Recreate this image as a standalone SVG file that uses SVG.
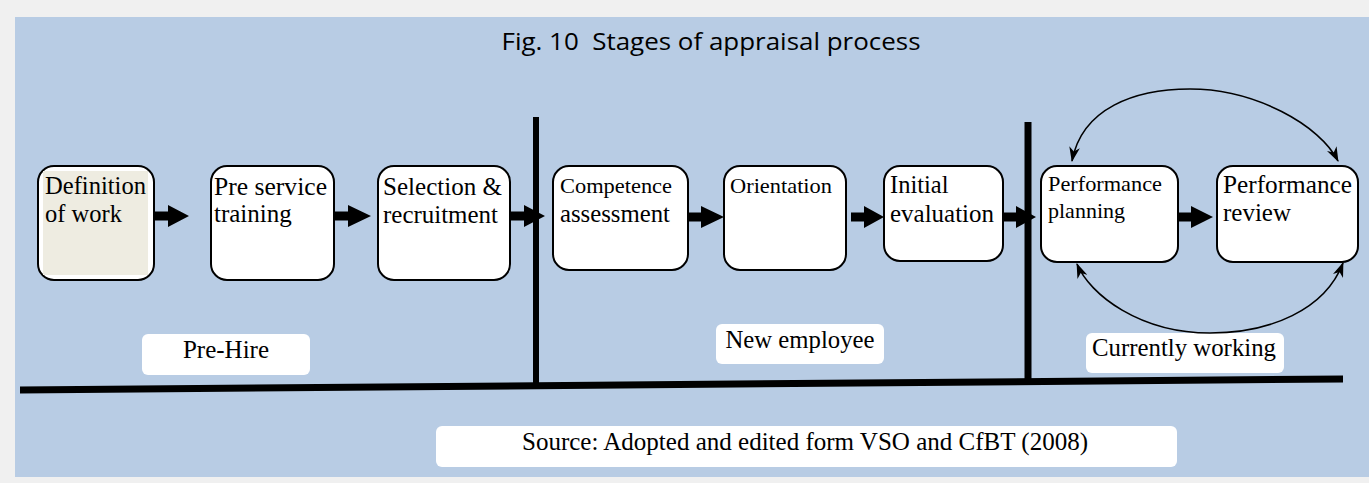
<svg xmlns="http://www.w3.org/2000/svg" width="1369" height="483" viewBox="0 0 1369 483">
<style>
.box{fill:#ffffff;stroke:#000000;stroke-width:2}
.lbl{fill:#ffffff;stroke:none}
.t{font-family:"Liberation Serif","Times New Roman",serif;fill:#000000}
.blk{fill:#000000;stroke:none}
.curve{fill:none;stroke:#000000;stroke-width:1.6}
.bar{stroke:#000000;fill:none}
.title{font-family:"Open Sans","Noto Sans",sans-serif;fill:#000000;white-space:pre}
</style>
<defs>
<marker id="ah" viewBox="0 0 14 10" refX="13" refY="5" markerWidth="15" markerHeight="11" markerUnits="userSpaceOnUse" orient="auto-start-reverse">
<path d="M0,0 L14,5 L0,10 L4,5 Z" fill="#000000"/>
</marker>
</defs>
<rect x="0" y="0" width="1369" height="483" fill="#f0f0f0"/>
<rect x="15" y="17" width="1354" height="460" fill="#b8cce4"/>
<text class="title" xml:space="preserve" x="711" y="50" text-anchor="middle" font-size="24" textLength="419" lengthAdjust="spacingAndGlyphs">Fig. 10  Stages of appraisal process</text>

<g id="dividers">
<line class="bar" x1="536" y1="117" x2="536" y2="386" stroke-width="6"/>
<line class="bar" x1="1028" y1="122" x2="1028" y2="382" stroke-width="7"/>
<line class="bar" x1="20" y1="390" x2="1343" y2="379" stroke-width="7"/>
</g>

<g id="node-definition">
<rect class="box" x="38" y="166" width="116" height="114" rx="16"/>
<rect x="43" y="171" width="105" height="104" fill="#eeece1"/>
<text class="t" x="45" y="194" font-size="24.5" textLength="101" lengthAdjust="spacingAndGlyphs">Definition</text>
<text class="t" x="45" y="222" font-size="24.5">of work</text>
</g>
<g id="node-preservice">
<rect class="box" x="211" y="166" width="123" height="114" rx="16"/>
<text class="t" x="214" y="195" font-size="25" textLength="113" lengthAdjust="spacingAndGlyphs">Pre service</text>
<text class="t" x="214" y="222" font-size="25">training</text>
</g>
<g id="node-selection">
<rect class="box" x="378" y="166" width="132" height="114" rx="16"/>
<text class="t" x="383" y="195" font-size="25" textLength="119" lengthAdjust="spacingAndGlyphs">Selection &amp;</text>
<text class="t" x="383" y="223" font-size="25" textLength="115" lengthAdjust="spacingAndGlyphs">recruitment</text>
</g>
<g id="node-competence">
<rect class="box" x="553" y="166" width="135" height="104" rx="16"/>
<text class="t" x="560" y="193" font-size="22" textLength="112" lengthAdjust="spacingAndGlyphs">Competence</text>
<text class="t" x="560" y="222" font-size="24.5" textLength="110" lengthAdjust="spacingAndGlyphs">assessment</text>
</g>
<g id="node-orientation">
<rect class="box" x="724" y="166" width="122" height="104" rx="16"/>
<text class="t" x="730" y="193" font-size="22" textLength="102" lengthAdjust="spacingAndGlyphs">Orientation</text>
</g>
<g id="node-initial">
<rect class="box" x="884" y="166" width="119" height="95" rx="16"/>
<text class="t" x="890" y="193" font-size="24.5">Initial</text>
<text class="t" x="890" y="222" font-size="24.5" textLength="104" lengthAdjust="spacingAndGlyphs">evaluation</text>
</g>
<g id="node-planning">
<rect class="box" x="1041" y="166" width="137" height="96" rx="16"/>
<text class="t" x="1048" y="191" font-size="22" textLength="114" lengthAdjust="spacingAndGlyphs">Performance</text>
<text class="t" x="1048" y="218" font-size="22">planning</text>
</g>
<g id="node-review">
<rect class="box" x="1217" y="166" width="141" height="96" rx="16"/>
<text class="t" x="1223" y="193" font-size="25" textLength="129" lengthAdjust="spacingAndGlyphs">Performance</text>
<text class="t" x="1223" y="221" font-size="25">review</text>
</g>

<g id="label-prehire">
<rect class="lbl" x="142" y="334" width="168" height="41" rx="6"/>
<text class="t" x="226" y="358" font-size="25" text-anchor="middle">Pre-Hire</text>
</g>
<g id="label-newemployee">
<rect class="lbl" x="716" y="324" width="168" height="40" rx="6"/>
<text class="t" x="800" y="348" font-size="25" text-anchor="middle" textLength="149" lengthAdjust="spacingAndGlyphs">New employee</text>
</g>
<g id="label-current">
<rect class="lbl" x="1086" y="333" width="198" height="40" rx="6"/>
<text class="t" x="1184" y="356" font-size="25" text-anchor="middle" textLength="184" lengthAdjust="spacingAndGlyphs">Currently working</text>
</g>
<g id="label-source">
<rect class="lbl" x="436" y="426" width="741" height="41" rx="6"/>
<text class="t" x="805" y="450" font-size="25" text-anchor="middle" textLength="566" lengthAdjust="spacingAndGlyphs">Source: Adopted and edited form VSO and CfBT (2008)</text>
</g>

<g id="connectors">
<polygon class="blk" points="154,211.5 168,211.5 168,205 189,216 168,227 168,220.5 154,220.5"/>
<polygon class="blk" points="334,211.5 348,211.5 348,205 371,216 348,227 348,220.5 334,220.5"/>
<polygon class="blk" points="510,211.5 524,211.5 524,205 545,216 524,227 524,220.5 510,220.5"/>
<polygon class="blk" points="688,212.5 701,212.5 701,206 724,217 701,228 701,221.5 688,221.5"/>
<polygon class="blk" points="851,212.5 864,212.5 864,206 884,217 864,228 864,221.5 851,221.5"/>
<polygon class="blk" points="1003,212.5 1016,212.5 1016,206 1036,217 1016,228 1016,221.5 1003,221.5"/>
<polygon class="blk" points="1178,212.5 1191,212.5 1191,206 1213,217 1191,228 1191,221.5 1178,221.5"/>
<path class="curve" d="M1072,161 C1082,108 1135,89 1190,89 C1255,89 1320,125 1338,161" marker-start="url(#ah)" marker-end="url(#ah)"/>
<path class="curve" d="M1077,264 C1090,295 1140,333 1210,333 C1270,333 1325,310 1343,263" marker-start="url(#ah)" marker-end="url(#ah)"/>
</g>
</svg>
